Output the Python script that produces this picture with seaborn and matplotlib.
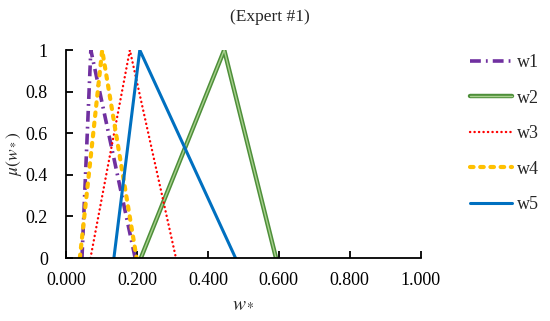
import matplotlib
matplotlib.use("Agg")
import matplotlib.pyplot as plt
import seaborn as sns
import pandas as pd
from matplotlib.lines import Line2D

sns.set_theme(style="white")
plt.rcParams['font.family'] = ['Liberation Serif', 'DejaVu Serif']
plt.rcParams['mathtext.fontset'] = 'stix'

series = ["w1", "w2", "w3", "w4", "w5"]
lower = [0.045, 0.211, 0.069, 0.039, 0.135]
middle = [0.070, 0.446, 0.180, 0.102, 0.208]
upper = [0.195, 0.592, 0.310, 0.199, 0.478]
membership = [0, 1, 0]
x_ticks = [0.0, 0.2, 0.4, 0.6, 0.8, 1.0]
y_ticks = [0, 0.2, 0.4, 0.6, 0.8, 1]

rows = []
for s, a, b, c in zip(series, lower, middle, upper):
    for xv, yv in zip([a, b, c], membership):
        rows.append({"series": s, "x": xv, "mu": yv})
df = pd.DataFrame(rows)

styles = {
    "w1": dict(color="#7030A0", lw=2.6, dashes=(3.0, 1.4, 0.5, 1.4), cap="butt"),
    "w2": dict(color="#4E8F3A", lw=3.2, dashes=None, cap="butt"),
    "w3": dict(color="#FF0000", lw=1.7, dashes=(0.1, 1.8), cap="round"),
    "w4": dict(color="#FFC000", lw=3.0, dashes=(0.85, 1.6), cap="round"),
    "w5": dict(color="#0070C0", lw=2.2, dashes=None, cap="butt"),
}

fig = plt.figure(figsize=(5.5, 3.21), dpi=100)
ax = fig.add_axes([0.12, 0.196, 0.645, 0.648])

handles = []
for s in series:
    st = styles[s]
    sub = df[df.series == s]
    sns.lineplot(data=sub, x="x", y="mu", ax=ax, color=st["color"], lw=st["lw"],
                 sort=False, estimator=None, legend=False)
    line = ax.lines[-1]
    h = Line2D([], [], color=st["color"], lw=st["lw"])
    if st["dashes"] is not None:
        line.set_dashes(st["dashes"])
        h.set_dashes(st["dashes"])
        line.set_dash_capstyle(st["cap"])
        h.set_dash_capstyle(st["cap"])
    if s == "w2":
        sns.lineplot(data=sub, x="x", y="mu", ax=ax, color="#A9D18E", lw=1.0,
                     sort=False, estimator=None, legend=False)
        h2 = Line2D([], [], color="#A9D18E", lw=1.0)
        h = (h, h2)
    handles.append(h)

ax.set_xlim(0, 1.0)
ax.set_ylim(0, 1)
ax.set_xticks(x_ticks)
ax.set_xticklabels([f"{v:.3f}" for v in x_ticks])
ax.set_yticks(y_ticks)
ax.set_yticklabels(["0", "0.2", "0.4", "0.6", "0.8", "1"])
for sp in ["top", "right"]:
    ax.spines[sp].set_visible(False)
for sp in ["left", "bottom"]:
    ax.spines[sp].set_color("black")
    ax.spines[sp].set_linewidth(1.3)
ax.tick_params(axis="both", direction="in", length=5, width=1.3, colors="black",
               labelsize=13)
ax.tick_params(axis="x", pad=10, bottom=True)
ax.tick_params(axis="y", pad=13, left=True)
ax.set_xlabel(r"$w_*$", fontsize=14, labelpad=4)
ax.set_ylabel(r"$\mu(w_*)$", fontsize=12.5, va="center")
ax.yaxis.set_label_coords(-0.147, 0.5)

fig.text(0.49, 0.947, "(Expert #1)", ha="center", va="center", fontsize=12.5)

leg = fig.legend(handles, series, loc="upper left", bbox_to_anchor=(0.8545, 0.832),
                 frameon=False, fontsize=13, handlelength=2.35, handletextpad=0.25,
                 labelspacing=1.03, borderaxespad=0, borderpad=0)

fig.savefig("out.png", dpi=100)
